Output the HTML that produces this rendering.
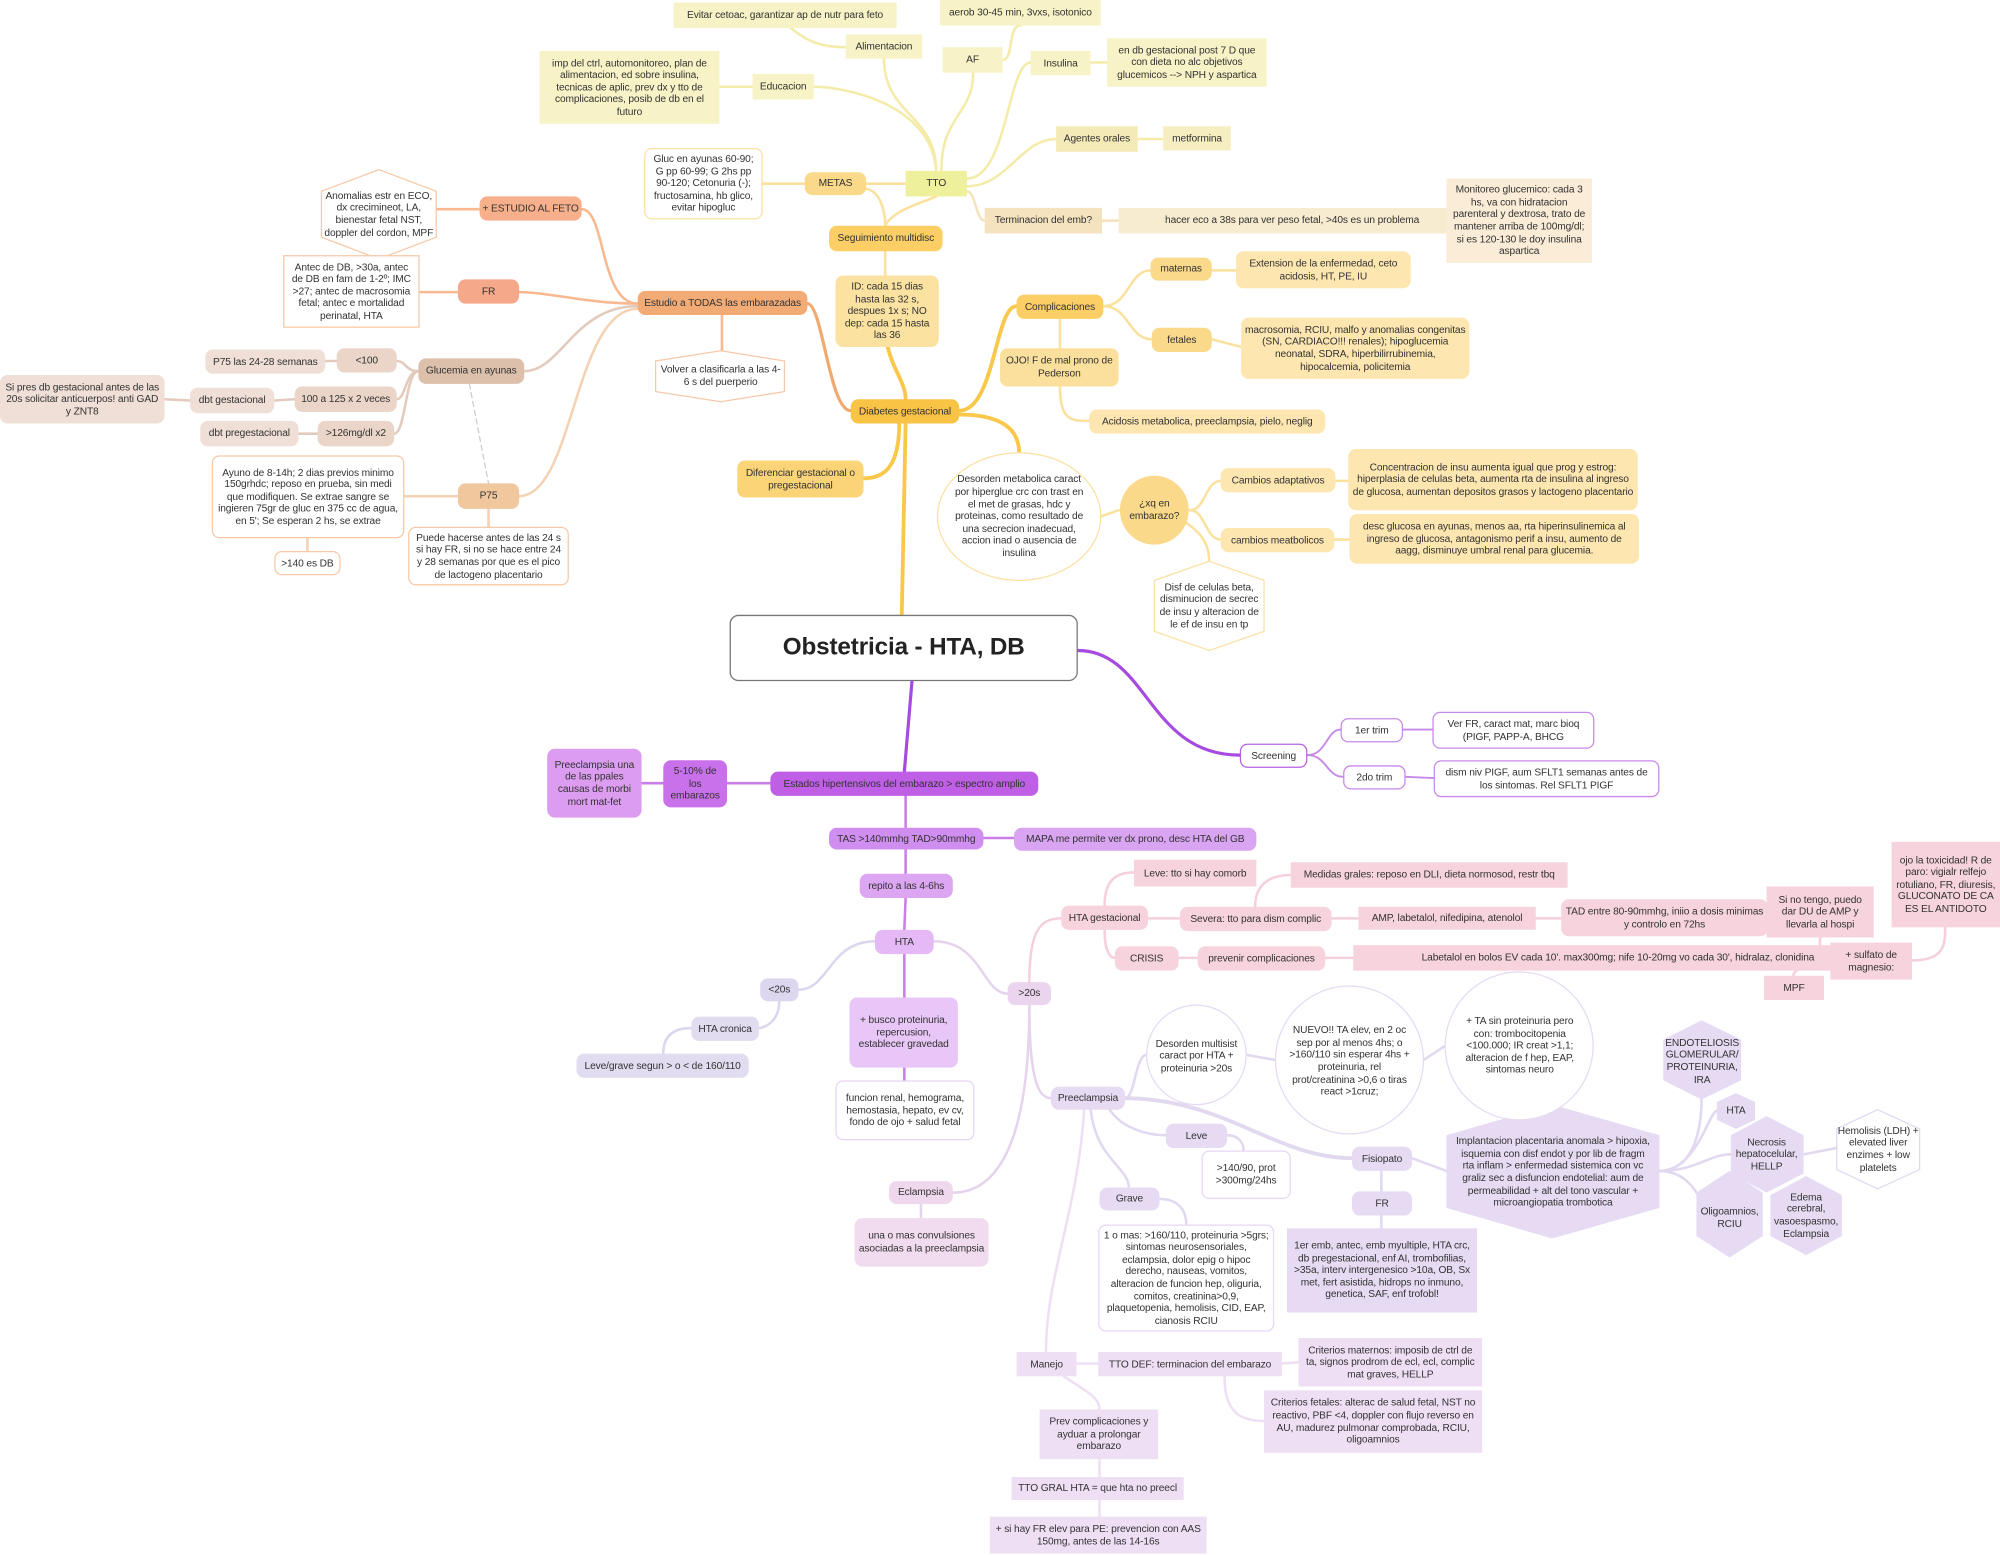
<!DOCTYPE html>
<html><head><meta charset="utf-8"><style>
html,body{margin:0;padding:0;background:#fff;width:2000px;height:1555px;overflow:hidden}
#w{position:absolute;left:0;top:0;width:1568px;height:1219px;transform:scale(1.27551);transform-origin:0 0;font-family:"Liberation Sans",sans-serif;font-size:8px;color:#333;letter-spacing:-0.1px}
.n{position:absolute;display:flex;align-items:center;justify-content:center;text-align:center;box-sizing:border-box;padding:1px 3px;line-height:1.2;border-radius:6px}
.sq{border-radius:0}
.nw{white-space:nowrap}
.t{position:absolute;display:flex;align-items:center;justify-content:center;text-align:center;box-sizing:border-box;line-height:1.2}
svg{position:absolute;left:0;top:0}
.y1{background:#f7f3c6}.y2{background:#eef09c}.ym{background:#fbd98a}.ys{background:#fbcf66}.yl{background:#fde6b0}
.o1{background:#f3ab76}.o2{background:#f8b08c}.o3{background:#dcc0ab}.o4{background:#efdfd6}.o5{background:#f1c79e}
.wy{background:#fff;border:1px solid #fbe2a4}.wo{background:#fff;border:1px solid #f7c9a8}.wp{background:#fff;border:1px solid #e8d6f3}.wpp{background:#fff;border:1px solid #b762e4}
.pk{background:#f6d3dd}.lv{background:#e6dbf3}.lp{background:#efdff5}
</style></head><body><div id="w">
<svg width="1568" height="1219" viewBox="0 0 1568 1219" fill="none" stroke-linecap="round">
<g stroke="#f5eba9" stroke-width="2">
<path d="M734 134 C734 90 693 90 693 46"/><path d="M738 134 C738 90 763 90 763 57"/>
<path d="M786 47 C795 47 790 20 800 20"/><path d="M663 37 C640 37 630 30 620 22"/>
<path d="M758 140 C790 140 790 49 808 49"/><path d="M855 49 L868 49"/>
<path d="M734 134 C730 80 660 68 638 68"/><path d="M564 68 L590 68"/>
<path d="M758 146 C790 146 800 109 828 109"/><path d="M892 109 L912 109"/>
</g>
<g stroke="#f5e2bf" stroke-width="2"><path d="M758 150 C765 150 765 173 772 173"/><path d="M864 173 L877 173"/><path d="M1149 173 L1134 173"/></g>
<g stroke="#fbe19e" stroke-width="2">
<path d="M679 144 L710 144"/><path d="M598 144 L631 144"/>
<path d="M679 148 C690 150 694 165 694 177"/><path d="M734 154 C720 160 700 165 694 177"/>
<path d="M694 197 L694 216"/>
<path d="M865 240 C885 240 885 212 902 212"/><path d="M865 240 C885 240 885 266 903 266"/>
<path d="M950 212 L969 212"/><path d="M950 266 L973 272"/>
<path d="M831 250 L831 273"/><path d="M831 303 C831 330 840 330 854 330"/>
<path d="M863 405 L877 400"/>
<path d="M933 400 C945 400 945 377 957 377"/><path d="M933 400 C945 400 945 423 957 423"/><path d="M930 410 C945 420 948 430 948 440"/>
<path d="M1047 377 L1057 377"/><path d="M1046 423 L1058 423"/>
</g>
<g stroke="#f9c84b" stroke-width="3">
<path d="M696 272 C700 290 710 300 710 313"/><path d="M710 332 L707 482"/>
<path d="M705 332 C705 370 690 375 677 375"/>
<path d="M752 322 C780 322 780 240 797 240"/><path d="M752 325 C790 325 799 340 799 355"/>
</g>
<g stroke="#f0aa70" stroke-width="2.5"><path d="M667 322 C650 322 645 238 633 238"/></g>
<g stroke="#f8b991" stroke-width="2">
<path d="M500 238 C470 238 475 164 456 164"/><path d="M342 164 L376 164"/>
<path d="M500 238 C460 238 430 229 407 229"/><path d="M329 229 L359 229"/>
<path d="M566 247 L566 275"/>
</g>
<g stroke="#e2cbbc" stroke-width="2">
<path d="M500 240 C450 240 440 291 411 291"/>
<path d="M328 291 C318 291 318 283 311 283"/><path d="M328 291 C318 291 318 313 311 313"/><path d="M328 291 C318 291 318 340 309 340"/>
<path d="M255 283 L264 283"/><path d="M215 314 L231 313"/><path d="M129 313 L149 314"/><path d="M234 340 L249 340"/>
</g>
<path d="M368 301 L383 379" stroke="#ccc" stroke-width="1" stroke-dasharray="4 3"/>
<g stroke="#f4d2b4" stroke-width="2">
<path d="M500 242 C450 242 450 389 407 389"/><path d="M317 389 L359 389"/><path d="M383 399 L383 413"/><path d="M241 422 L241 432"/>
</g>
<g stroke="#a64ae0" stroke-width="2.5">
<path d="M715 534 L709 605"/><path d="M845 510 C900 510 900 592 972 592"/>
</g>
<g stroke="#c88ae9" stroke-width="1.5">
<path d="M1025 592 C1040 592 1040 572 1051 572"/><path d="M1025 592 C1040 592 1040 609 1053 609"/>
<path d="M1100 572 L1123 572"/><path d="M1102 609 L1124 610"/>
</g>
<g stroke="#c97fea" stroke-width="2">
<path d="M570 614 L604 614"/><path d="M503 614 L520 614"/>
<path d="M710 624 L710 649"/><path d="M771 657 L795 657"/><path d="M710 666 L710 685"/><path d="M710 704 L709 729"/>
<path d="M709 748 L709 782"/><path d="M709 837 L709 847"/>
</g>
<g stroke="#dcd6ee" stroke-width="2">
<path d="M686 738 C650 738 650 776 626 776"/><path d="M611 785 C611 800 600 806 595 806"/><path d="M542 806 C525 806 520 815 520 826"/>
</g>
<g stroke="#e6d4ee" stroke-width="2">
<path d="M732 738 C770 738 770 779 790 779"/><path d="M807 788 C807 850 815 861 824 861"/>
<path d="M807 788 C807 900 780 935 747 935"/><path d="M722 944 L722 955"/>
</g>
<g stroke="#f5d0dc" stroke-width="2">
<path d="M807 770 C807 730 815 720 832 720"/>
<path d="M866 710 C866 690 875 684 889 684"/><path d="M900 720 L925 720"/><path d="M866 729 C866 745 870 751 874 751"/>
<path d="M984 711 C984 690 1000 686 1012 686"/><path d="M1044 720 L1065 720"/><path d="M1204 720 L1224 720"/>
<path d="M924 751 L939 751"/><path d="M1039 751 L1061 751"/>
<path d="M1476 749 C1420 749 1427 745 1427 735"/><path d="M1476 751 C1440 752 1440 754 1435 754"/><path d="M1460 752 C1470 752 1406 752 1406 765"/>
<path d="M1499 753 C1525 753 1525 740 1525 727"/>
</g>
<g stroke="#e2d8f0" stroke-width="2">
<path d="M882 861 C890 861 890 827 899 827"/><path d="M977 827 L1000 831"/><path d="M1116 831 L1133 820"/>
<path d="M870 870 C880 885 900 890 914 890"/><path d="M962 890 C970 890 975 895 975 902"/>
<path d="M855 870 C860 910 885 915 885 931"/><path d="M909 940 C925 940 930 950 930 960"/>
<path d="M1083 918 L1083 934"/><path d="M1083 953 L1083 963"/><path d="M1107 908 L1134 918"/>
<path d="M1301 918 C1330 918 1334 880 1334 862"/><path d="M1301 918 C1330 918 1340 871 1346 871"/>
<path d="M1301 918 C1330 918 1340 905 1357 905"/><path d="M1301 918 C1330 918 1335 950 1340 950"/>
<path d="M1414 905 L1440 900"/>
</g>
<path d="M882 861 C960 861 1000 908 1060 908" stroke="#e2d8f0" stroke-width="3"/>
<g stroke="#efdff5" stroke-width="2">
<path d="M850 870 C845 950 820 1000 820 1060"/><path d="M844 1069 L861 1069"/>
<path d="M1005 1069 L1018 1068"/><path d="M960 1079 C960 1110 975 1114 991 1114"/>
<path d="M834 1079 C850 1090 862 1095 862 1105"/><path d="M862 1144 L862 1158"/><path d="M862 1176 L862 1189"/>
</g>
<polygon points="297,133 342,150 342,186 297,203 252,186 252,150" fill="#fff" stroke="#f7c9a8"/>
<polygon points="565,275 615,283 615,307 565,315 514,307 514,283" fill="#fff" stroke="#f7c9a8"/>
<polygon points="948,440 991,455 991,495 948,510 905,495 905,455" fill="#fff" stroke="#fbe2a4"/>
<polygon points="1217,866 1301,890 1301,947 1217,971 1134,947 1134,890" fill="#e6dbf3"/>
<polygon points="1334,800 1365,815 1365,847 1334,862 1304,847 1304,815" fill="#e6dbf3"/>
<polygon points="1361,857 1376,864 1376,878 1361,885 1346,878 1346,864" fill="#e6dbf3"/>
<polygon points="1385,875 1414,890 1414,920 1385,935 1357,920 1357,890" fill="#e6dbf3"/>
<polygon points="1472,870 1505,885 1505,917 1472,932 1440,917 1440,885" fill="#fff" stroke="#e2d8f0"/>
<polygon points="1356,918 1382,935 1382,969 1356,986 1330,969 1330,935" fill="#e6dbf3"/>
<polygon points="1416,922 1444,937 1444,969 1416,984 1388,969 1388,937" fill="#e6dbf3"/>
<ellipse cx="799" cy="405" rx="64" ry="50" fill="#fff" stroke="#fbe2a4"/>
<circle cx="905" cy="400" r="27" fill="#fbd98a"/>
<circle cx="938" cy="827" r="39" fill="#fff" stroke="#e6dbf3"/>
<circle cx="1058" cy="831" r="58" fill="#fff" stroke="#e6dbf3"/>
<circle cx="1191" cy="820" r="58" fill="#fff" stroke="#e6dbf3"/>
</svg>

<div class="n sq y1" style="left:528px;top:2px;width:175px;height:20px">Evitar cetoac, garantizar ap de nutr para feto</div>
<div class="n sq y1" style="left:737px;top:0;width:126px;height:20px">aerob 30-45 min, 3vxs, isotonico</div>
<div class="n sq y1" style="left:663px;top:27px;width:60px;height:19px">Alimentacion</div>
<div class="n sq y1" style="left:739px;top:37px;width:47px;height:20px">AF</div>
<div class="n sq y1" style="left:808px;top:40px;width:47px;height:19px">Insulina</div>
<div class="n sq y1" style="left:868px;top:30px;width:125px;height:38px">en db gestacional post 7 D que con dieta no alc objetivos glucemicos --&gt; NPH y aspartica</div>
<div class="n sq y1" style="left:590px;top:58px;width:48px;height:20px">Educacion</div>
<div class="n sq y1" style="left:423px;top:40px;width:141px;height:57px">imp del ctrl, automonitoreo, plan de alimentacion, ed sobre insulina, tecnicas de aplic, prev dx y tto de complicaciones, posib de db en el futuro</div>
<div class="n sq" style="left:828px;top:99px;width:64px;height:20px;background:#f4eab7">Agentes orales</div>
<div class="n sq" style="left:912px;top:99px;width:53px;height:19px;background:#f6eec1">metformina</div>
<div class="n sq y2" style="left:710px;top:134px;width:48px;height:20px">TTO</div>
<div class="n sq" style="left:772px;top:163px;width:92px;height:20px;background:#f5e3c0">Terminacion del emb?</div>
<div class="n sq" style="left:877px;top:163px;width:272px;height:20px;background:#f7ebd0">hacer eco a 38s para ver peso fetal, &gt;40s es un problema</div>
<div class="n sq" style="left:1134px;top:140px;width:114px;height:66px;background:#faecd6">Monitoreo glucemico: cada 3 hs, va con hidratacion parenteral y dextrosa, trato de mantener arriba de 100mg/dl; si es 120-130 le doy insulina aspartica</div>
<div class="n ym" style="left:631px;top:135px;width:48px;height:18px">METAS</div>
<div class="n wy" style="left:505px;top:116px;width:93px;height:56px">Gluc en ayunas 60-90; G pp 60-99; G 2hs pp 90-120; Cetonuria (-); fructosamina, hb glico, evitar hipogluc</div>
<div class="n ys nw" style="left:650px;top:177px;width:89px;height:20px">Seguimiento multidisc</div>
<div class="n" style="left:655px;top:216px;width:81px;height:56px;background:#fbe2a0">ID: cada 15 dias hasta las 32 s, despues 1x s; NO dep: cada 15 hasta las 36</div>
<div class="n nw" style="left:667px;top:313px;width:85px;height:19px;background:#f9c345">Diabetes gestacional</div>
<div class="n" style="left:578px;top:361px;width:99px;height:29px;background:#fbd478">Diferenciar gestacional o pregestacional</div>
<div class="n ys" style="left:797px;top:231px;width:68px;height:19px">Complicaciones</div>
<div class="n" style="left:784px;top:273px;width:93px;height:30px;background:#fbe09d">OJO! F de mal prono de Pederson</div>
<div class="n ym" style="left:902px;top:202px;width:48px;height:18px">maternas</div>
<div class="n yl" style="left:969px;top:197px;width:137px;height:29px">Extension de la enfermedad, ceto acidosis, HT, PE, IU</div>
<div class="n ym" style="left:903px;top:257px;width:47px;height:19px">fetales</div>
<div class="n yl" style="left:973px;top:249px;width:179px;height:48px">macrosomia, RCIU, malfo y anomalias congenitas (SN, CARDIACO!!! renales); hipoglucemia neonatal, SDRA, hiperbilirrubinemia, hipocalcemia, policitemia</div>
<div class="n yl" style="left:854px;top:321px;width:185px;height:19px">Acidosis metabolica, preeclampsia, pielo, neglig</div>
<div class="t" style="left:745px;top:362px;width:108px;height:86px">Desorden metabolica caract por hiperglue crc con trast en el met de grasas, hdc y proteinas, como resultado de una secrecion inadecuad, accion inad o ausencia de insulina</div>
<div class="t" style="left:878px;top:385px;width:54px;height:30px">¿xq en embarazo?</div>
<div class="n yl" style="left:957px;top:367px;width:90px;height:19px">Cambios adaptativos</div>
<div class="n yl" style="left:1057px;top:352px;width:227px;height:48px">Concentracion de insu aumenta igual que prog y estrog: hiperplasia de celulas beta, aumenta rta de insulina al ingreso de glucosa, aumentan depositos grasos y lactogeno placentario</div>
<div class="n yl" style="left:957px;top:414px;width:89px;height:19px">cambios meatbolicos</div>
<div class="n yl" style="left:1058px;top:403px;width:227px;height:39px">desc glucosa en ayunas, menos aa, rta hiperinsulinemica al ingreso de glucosa, antagonismo perif a insu, aumento de aagg, disminuye umbral renal para glucemia.</div>
<div class="t" style="left:906px;top:455px;width:84px;height:40px">Disf de celulas beta, disminucion de secrec de insu y alteracion de le ef de insu en tp</div>

<div class="n o1 nw" style="left:500px;top:228px;width:133px;height:19px">Estudio a TODAS las embarazadas</div>
<div class="n o2 nw" style="left:376px;top:154px;width:80px;height:19px">+ ESTUDIO AL FETO</div>
<div class="t" style="left:254px;top:140px;width:86px;height:56px">Anomalias estr en ECO, dx crecimineot, LA, bienestar fetal NST, doppler del cordon, MPF</div>
<div class="n" style="left:359px;top:219px;width:48px;height:19px;background:#f6a98a">FR</div>
<div class="n sq wo" style="left:222px;top:200px;width:107px;height:57px">Antec de DB, &gt;30a, antec de DB en fam de 1-2º; IMC &gt;27; antec de macrosomia fetal; antec e mortalidad perinatal, HTA</div>
<div class="t" style="left:516px;top:283px;width:98px;height:24px">Volver a clasificarla a las 4-6 s del puerperio</div>
<div class="n o3" style="left:328px;top:281px;width:83px;height:20px">Glucemia en ayunas</div>
<div class="n" style="left:264px;top:273px;width:47px;height:19px;background:#ead5c8">&lt;100</div>
<div class="n o4 nw" style="left:161px;top:274px;width:94px;height:19px">P75 las 24-28 semanas</div>
<div class="n nw" style="left:231px;top:303px;width:80px;height:20px;background:#ead5c8">100 a 125 x 2 veces</div>
<div class="n o4" style="left:149px;top:304px;width:66px;height:20px">dbt gestacional</div>
<div class="n o4" style="left:0;top:294px;width:129px;height:38px">Si pres db gestacional antes de las 20s solicitar anticuerpos! anti GAD y ZNT8</div>
<div class="n" style="left:249px;top:330px;width:60px;height:20px;background:#ead5c8">&gt;126mg/dl x2</div>
<div class="n o4" style="left:157px;top:330px;width:77px;height:20px">dbt pregestacional</div>
<div class="n o5" style="left:359px;top:379px;width:48px;height:20px">P75</div>
<div class="n wo" style="left:166px;top:357px;width:151px;height:65px">Ayuno de 8-14h; 2 dias previos minimo 150grhdc; reposo en prueba, sin medi que modifiquen. Se extrae sangre se ingieren 75gr de gluc en 375 cc de agua, en 5'; Se esperan 2 hs, se extrae</div>
<div class="n wo" style="left:215px;top:432px;width:52px;height:19px">&gt;140 es DB</div>
<div class="n wo" style="left:320px;top:413px;width:126px;height:46px">Puede hacerse antes de las 24 s si hay FR, si no se hace entre 24 y 28 semanas por que es el pico de lactogeno placentario</div>

<div class="n" style="left:572px;top:482px;width:273px;height:52px;background:#fff;border:1px solid #777;border-radius:7px;font-size:19px;font-weight:bold;color:#222">Obstetricia - HTA, DB</div>

<div class="n wpp" style="left:972px;top:583px;width:53px;height:19px">Screening</div>
<div class="n wpp" style="left:1051px;top:563px;width:49px;height:19px;border-color:#c88ae9">1er trim</div>
<div class="n wpp" style="left:1123px;top:558px;width:127px;height:29px;border-color:#c88ae9">Ver FR, caract mat, marc bioq (PIGF, PAPP-A, BHCG</div>
<div class="n wpp" style="left:1053px;top:600px;width:49px;height:19px;border-color:#c88ae9">2do trim</div>
<div class="n wpp" style="left:1124px;top:596px;width:177px;height:29px;border-color:#c88ae9">dism niv PIGF, aum SFLT1 semanas antes de los sintomas. Rel SFLT1 PIGF</div>
<div class="n nw" style="left:604px;top:605px;width:210px;height:19px;background:#bf5fe6">Estados hipertensivos del embarazo &gt; espectro amplio</div>
<div class="n" style="left:520px;top:596px;width:50px;height:37px;background:#c971ea">5-10% de los embarazos</div>
<div class="n" style="left:429px;top:587px;width:74px;height:54px;background:#dc9df1">Preeclampsia una de las ppales causas de morbi mort mat-fet</div>
<div class="n nw" style="left:650px;top:649px;width:121px;height:17px;background:#d08ef0">TAS &gt;140mmhg TAD&gt;90mmhg</div>
<div class="n" style="left:795px;top:649px;width:190px;height:18px;background:#d9a5f2">MAPA me permite ver dx prono, desc HTA del GB</div>
<div class="n" style="left:674px;top:685px;width:73px;height:19px;background:#dda6f2">repito a las 4-6hs</div>
<div class="n" style="left:686px;top:729px;width:46px;height:19px;background:#e4b9f5">HTA</div>
<div class="n" style="left:596px;top:767px;width:30px;height:18px;background:#dcd6ee">&lt;20s</div>
<div class="n" style="left:542px;top:797px;width:53px;height:19px;background:#e2dcf0">HTA cronica</div>
<div class="n" style="left:452px;top:826px;width:135px;height:19px;background:#e2dcf0">Leve/grave segun &gt; o &lt; de 160/110</div>
<div class="n" style="left:666px;top:782px;width:85px;height:55px;background:#e8c6f7">+ busco proteinuria, repercusion, establecer gravedad</div>
<div class="n wp" style="left:655px;top:847px;width:109px;height:47px">funcion renal, hemograma, hemostasia, hepato, ev cv, fondo de ojo + salud fetal</div>
<div class="n" style="left:790px;top:770px;width:34px;height:18px;background:#ebd4ed">&gt;20s</div>
<div class="n" style="left:697px;top:926px;width:50px;height:18px;background:#efd7ee">Eclampsia</div>
<div class="n" style="left:670px;top:955px;width:105px;height:38px;background:#f1dcef">una o mas convulsiones asociadas a la preeclampsia</div>
<div class="n pk" style="left:832px;top:710px;width:68px;height:19px">HTA gestacional</div>
<div class="n sq pk" style="left:889px;top:674px;width:96px;height:21px">Leve: tto si hay comorb</div>
<div class="n pk nw" style="left:925px;top:711px;width:119px;height:19px">Severa: tto para dism complic</div>
<div class="n pk" style="left:874px;top:742px;width:50px;height:19px">CRISIS</div>
<div class="n pk" style="left:939px;top:742px;width:100px;height:19px">prevenir complicaciones</div>
<div class="n sq pk" style="left:1012px;top:676px;width:217px;height:20px">Medidas grales: reposo en DLI, dieta normosod, restr tbq</div>
<div class="n sq pk" style="left:1065px;top:711px;width:139px;height:18px">AMP, labetalol, nifedipina, atenolol</div>
<div class="n pk" style="left:1224px;top:705px;width:162px;height:29px">TAD entre 80-90mmhg, iniio a dosis minimas y controlo en 72hs</div>
<div class="n sq pk" style="left:1061px;top:741px;width:415px;height:20px">Labetalol en bolos EV cada 10'. max300mg; nife 10-20mg vo cada 30', hidralaz, clonidina</div>
<div class="n sq pk" style="left:1385px;top:695px;width:84px;height:40px">Si no tengo, puedo dar DU de AMP y llevarla al hospi</div>
<div class="n sq pk" style="left:1483px;top:660px;width:85px;height:67px">ojo la toxicidad! R de paro: vigialr relfejo rotuliano, FR, diuresis, GLUCONATO DE CA ES EL ANTIDOTO</div>
<div class="n sq pk" style="left:1435px;top:739px;width:64px;height:29px">+ sulfato de magnesio:</div>
<div class="n sq pk" style="left:1383px;top:765px;width:47px;height:19px">MPF</div>
<div class="n lv" style="left:824px;top:852px;width:58px;height:18px">Preeclampsia</div>
<div class="t" style="left:905px;top:805px;width:66px;height:46px">Desorden multisist caract por HTA + proteinuria &gt;20s</div>
<div class="t" style="left:1010px;top:802px;width:96px;height:60px">NUEVO!! TA elev, en 2 oc sep por al menos 4hs; o &gt;160/110 sin esperar 4hs + proteinuria, rel prot/creatinina &gt;0,6 o tiras react &gt;1cruz;</div>
<div class="t" style="left:1143px;top:786px;width:97px;height:68px">+ TA sin proteinuria pero con: trombocitopenia &lt;100.000; IR creat &gt;1,1; alteracion de f hep, EAP, sintomas neuro</div>
<div class="n lv" style="left:914px;top:881px;width:48px;height:19px">Leve</div>
<div class="n wp" style="left:942px;top:902px;width:70px;height:38px">&gt;140/90, prot &gt;300mg/24hs</div>
<div class="n lv" style="left:862px;top:931px;width:47px;height:18px">Grave</div>
<div class="n wp" style="left:861px;top:960px;width:138px;height:84px">1 o mas: &gt;160/110, proteinuria &gt;5grs; sintomas neurosensoriales, eclampsia, dolor epig o hipoc derecho, nauseas, vomitos, alteracion de funcion hep, oliguria, comitos, creatinina&gt;0,9, plaquetopenia, hemolisis, CID, EAP, cianosis RCIU</div>
<div class="n lv" style="left:1060px;top:899px;width:47px;height:19px">Fisiopato</div>
<div class="n lv" style="left:1060px;top:934px;width:47px;height:19px">FR</div>
<div class="n sq lv" style="left:1009px;top:963px;width:149px;height:66px">1er emb, antec, emb myultiple, HTA crc, db pregestacional, enf AI, trombofilias, &gt;35a, interv intergenesico &gt;10a, OB, Sx met, fert asistida, hidrops no inmuno, genetica, SAF, enf trofobl!</div>
<div class="t" style="left:1140px;top:884px;width:155px;height:70px">Implantacion placentaria anomala &gt; hipoxia, isquemia con disf endot y por lib de fragm rta inflam &gt; enfermedad sistemica con vc graliz sec a disfuncion endotelial: aum de permeabilidad + alt del tono vascular + microangiopatia trombotica</div>
<div class="t" style="left:1304px;top:812px;width:61px;height:40px">ENDOTELIOSIS GLOMERULAR/ PROTEINURIA, IRA</div>
<div class="t" style="left:1346px;top:862px;width:30px;height:18px">HTA</div>
<div class="t" style="left:1355px;top:888px;width:60px;height:34px">Necrosis hepatocelular, HELLP</div>
<div class="t" style="left:1440px;top:880px;width:65px;height:42px">Hemolisis (LDH) + elevated liver enzimes + low platelets</div>
<div class="t" style="left:1329px;top:942px;width:54px;height:26px">Oligoamnios, RCIU</div>
<div class="t" style="left:1388px;top:932px;width:56px;height:42px">Edema cerebral, vasoespasmo, Eclampsia</div>
<div class="n sq lp" style="left:797px;top:1060px;width:47px;height:19px">Manejo</div>
<div class="n sq lp" style="left:861px;top:1060px;width:144px;height:19px">TTO DEF: terminacion del embarazo</div>
<div class="n sq lp" style="left:1018px;top:1049px;width:144px;height:38px">Criterios maternos: imposib de ctrl de ta, signos prodrom de ecl, ecl, complic mat graves, HELLP</div>
<div class="n sq lp" style="left:991px;top:1090px;width:171px;height:49px">Criterios fetales: alterac de salud fetal, NST no reactivo, PBF &lt;4, doppler con flujo reverso en AU, madurez pulmonar comprobada, RCIU, oligoamnios</div>
<div class="n sq lp" style="left:815px;top:1105px;width:93px;height:39px">Prev complicaciones y ayduar a prolongar embarazo</div>
<div class="n sq lp" style="left:793px;top:1158px;width:135px;height:18px">TTO GRAL HTA = que hta no preecl</div>
<div class="n sq lp" style="left:776px;top:1189px;width:170px;height:29px">+ si hay FR elev para PE: prevencion con AAS 150mg, antes de las 14-16s</div>
</div></body></html>
